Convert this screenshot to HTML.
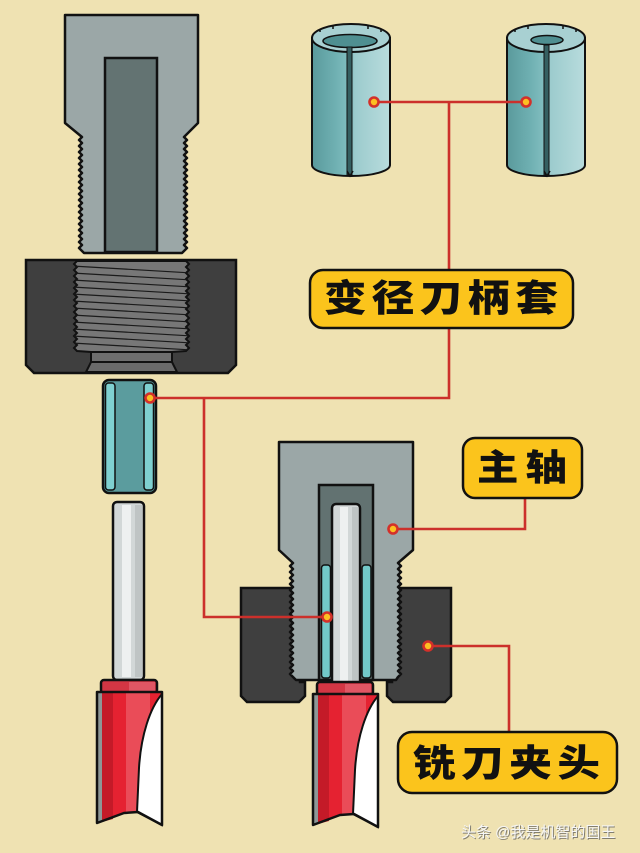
<!DOCTYPE html>
<html><head><meta charset="utf-8"><style>
html,body{margin:0;padding:0;background:#efe2b2;}
svg{display:block;}
.lbl{font-family:"Liberation Sans","Noto Sans CJK SC",sans-serif;font-weight:900;fill:#111;}
</style></head><body>
<svg width="640" height="853" viewBox="0 0 640 853" xmlns="http://www.w3.org/2000/svg">
<defs>
<linearGradient id="cg" x1="0" x2="1" y1="0" y2="0">
<stop offset="0" stop-color="#5a9a9c"/><stop offset="0.3" stop-color="#6fb0b2"/><stop offset="0.5" stop-color="#84bfc1"/><stop offset="0.55" stop-color="#9ccbcd"/><stop offset="1" stop-color="#b8dcdd"/>
</linearGradient>
<clipPath id="nutclip"><path d="M77,261 H186 l3,3 l-3,3 l3,3 l-3,3 l3,3 l-3,3 l3,3 l-3,3 l3,3 l-3,3 l3,3 l-3,3 l3,3 l-3,3 l3,3 l-3,3 l3,3 l-3,3 l3,3 l-3,3 l3,3 l-3,3 l3,3 l-3,3 l3,3 l-3,3 l3,3 l-3,3 l3,3 l-3,3 L172,352 H91 L77,351 l-3,-3 l3,-3 l-3,-3 l3,-3 l-3,-3 l3,-3 l-3,-3 l3,-3 l-3,-3 l3,-3 l-3,-3 l3,-3 l-3,-3 l3,-3 l-3,-3 l3,-3 l-3,-3 l3,-3 l-3,-3 l3,-3 l-3,-3 l3,-3 l-3,-3 l3,-3 l-3,-3 l3,-3 l-3,-3 l3,-3 l-3,-3 l3,-3 Z"/></clipPath>
</defs>
<rect width="640" height="853" fill="#efe2b2"/>

<!-- LEFT SPINDLE -->
<path d="M65,15 H198 V123 L184,137 l3,3 l-3,3 l3,3 l-3,3 l3,3 l-3,3 l3,3 l-3,3 l3,3 l-3,3 l3,3 l-3,3 l3,3 l-3,3 l3,3 l-3,3 l3,3 l-3,3 l3,3 l-3,3 l3,3 l-3,3 l3,3 l-3,3 l3,3 l-3,3 l3,3 l-3,3 l3,3 l-3,3 l3,3 l-3,3 l3,3 l-3,3 l3,3 l-3,3 l3,3 l-3,3 L182,253 H84 L82,251 l-3,-3 l3,-3 l-3,-3 l3,-3 l-3,-3 l3,-3 l-3,-3 l3,-3 l-3,-3 l3,-3 l-3,-3 l3,-3 l-3,-3 l3,-3 l-3,-3 l3,-3 l-3,-3 l3,-3 l-3,-3 l3,-3 l-3,-3 l3,-3 l-3,-3 l3,-3 l-3,-3 l3,-3 l-3,-3 l3,-3 l-3,-3 l3,-3 l-3,-3 l3,-3 l-3,-3 l3,-3 l-3,-3 l3,-3 l-3,-3 l3,-3 L65,123 Z" fill="#9ba7a7" stroke="#111" stroke-width="2.5" stroke-linejoin="round"/>
<rect x="105" y="58" width="52" height="194" fill="#637372" stroke="#111" stroke-width="2.5"/>

<!-- LEFT NUT -->
<path d="M26,260 H236 V365 L228,373 H34 L26,365 Z" fill="#3f3f3f" stroke="#111" stroke-width="2.5"/>
<path d="M77,261 H186 l3,3 l-3,3 l3,3 l-3,3 l3,3 l-3,3 l3,3 l-3,3 l3,3 l-3,3 l3,3 l-3,3 l3,3 l-3,3 l3,3 l-3,3 l3,3 l-3,3 l3,3 l-3,3 l3,3 l-3,3 l3,3 l-3,3 l3,3 l-3,3 l3,3 l-3,3 l3,3 l-3,3 L172,352 H91 L77,351 l-3,-3 l3,-3 l-3,-3 l3,-3 l-3,-3 l3,-3 l-3,-3 l3,-3 l-3,-3 l3,-3 l-3,-3 l3,-3 l-3,-3 l3,-3 l-3,-3 l3,-3 l-3,-3 l3,-3 l-3,-3 l3,-3 l-3,-3 l3,-3 l-3,-3 l3,-3 l-3,-3 l3,-3 l-3,-3 l3,-3 l-3,-3 l3,-3 Z" fill="#777" stroke="#111" stroke-width="2"/>
<g clip-path="url(#nutclip)" stroke="#1a1a1a" stroke-width="1.2">
<line x1="72" y1="266" x2="192" y2="273"/><line x1="72" y1="273" x2="192" y2="280"/><line x1="72" y1="280" x2="192" y2="287"/><line x1="72" y1="287" x2="192" y2="294"/><line x1="72" y1="294" x2="192" y2="301"/><line x1="72" y1="301" x2="192" y2="308"/><line x1="72" y1="308" x2="192" y2="315"/><line x1="72" y1="315" x2="192" y2="322"/><line x1="72" y1="322" x2="192" y2="329"/><line x1="72" y1="329" x2="192" y2="336"/><line x1="72" y1="336" x2="192" y2="343"/><line x1="72" y1="343" x2="192" y2="350"/>
</g>
<path d="M91,352 H172 V362 H91 Z" fill="#6e6e6e" stroke="#111" stroke-width="2"/>
<path d="M91,362 H172 L177,372 H86 Z" fill="#6a6a6a" stroke="#111" stroke-width="2"/>

<!-- SMALL COLLET -->
<rect x="103" y="380" width="53" height="113" rx="6" fill="#5b9c9e" stroke="#111" stroke-width="2.5"/>
<rect x="105.5" y="383" width="9.5" height="107" rx="3" fill="#7fd0d0" stroke="#111" stroke-width="1.5"/>
<rect x="144" y="383" width="9.5" height="107" rx="3" fill="#7fd0d0" stroke="#111" stroke-width="1.5"/>

<!-- LEFT BIT -->
<rect x="113" y="502" width="31" height="178" rx="4" fill="#d2d7d7" stroke="#111" stroke-width="2.5"/>
<rect x="122" y="505" width="9" height="172" fill="#eef0f0"/>
<rect x="135" y="505" width="7" height="172" fill="#bfc4c4"/>
<g>
<rect x="101" y="680" width="56" height="13" rx="3" fill="#d43644" stroke="#111" stroke-width="2.5"/>
<rect x="129" y="682" width="26" height="9" fill="#e05664"/>
<path d="M97,692 H162 V825 L138,812 L124,813 L97,823 Z" fill="#e52231"/>
<path d="M97,693 H102 V822 L97,823 Z" fill="#8d9797"/>
<path d="M102,693 H113 V819 L102,822 Z" fill="#c41a28"/>
<path d="M126,693 H150 V812 L126,813 Z" fill="#ea4c58"/>
<path d="M162,694 C150,708 141,735 139,768 L137,812 L162,825 Z" fill="#fff" stroke="#111" stroke-width="2"/>
<path d="M97,692 H162 V825 L138,812 L124,813 L97,823 Z" fill="none" stroke="#111" stroke-width="2.5" stroke-linejoin="round"/>
</g>

<!-- TOP COLLETS -->
<g>
<path d="M312,38 V165 A39,11 0 0 0 390,165 V38 Z" fill="url(#cg)" stroke="#111" stroke-width="2"/>
<ellipse cx="351" cy="38" rx="39" ry="14" fill="#a8d0d2" stroke="#111" stroke-width="2"/>
<ellipse cx="350" cy="41" rx="27" ry="6.5" fill="#4f8f91" stroke="#111" stroke-width="1.5"/>
<rect x="347" y="47" width="5" height="128" fill="#355f61" stroke="#111" stroke-width="1"/>
<path d="M320,29 v3 M333,26 v3 M368,26 v3 M381,29 v3 M347,171 l3,5 l3,-5" stroke="#111" stroke-width="1.5" fill="none"/>
</g>
<g transform="translate(195,0)">
<path d="M312,38 V165 A39,11 0 0 0 390,165 V38 Z" fill="url(#cg)" stroke="#111" stroke-width="2"/>
<ellipse cx="351" cy="38" rx="39" ry="14" fill="#a8d0d2" stroke="#111" stroke-width="2"/>
<ellipse cx="352" cy="40" rx="16" ry="4.5" fill="#4f8f91" stroke="#111" stroke-width="1.5"/>
<rect x="349" y="45" width="5" height="130" fill="#355f61" stroke="#111" stroke-width="1"/>
<path d="M320,29 v3 M333,26 v3 M368,26 v3 M381,29 v3 M349,171 l3,5 l3,-5" stroke="#111" stroke-width="1.5" fill="none"/>
</g>

<!-- RIGHT ASSEMBLY: NUTS -->
<path d="M241,588 H300 V682 H305 V696 L299,702 H247 L241,696 Z" fill="#3f3f3f" stroke="#111" stroke-width="2.5"/>
<path d="M451,588 H392 V682 H387 V696 L393,702 H445 L451,696 Z" fill="#3f3f3f" stroke="#111" stroke-width="2.5"/>
<!-- RIGHT SPINDLE -->
<path d="M279,442 H413 V550 L398,563 l3,3 l-3,3 l3,3 l-3,3 l3,3 l-3,3 l3,3 l-3,3 l3,3 l-3,3 l3,3 l-3,3 l3,3 l-3,3 l3,3 l-3,3 l3,3 l-3,3 l3,3 l-3,3 l3,3 l-3,3 l3,3 l-3,3 l3,3 l-3,3 l3,3 l-3,3 l3,3 l-3,3 l3,3 l-3,3 l3,3 l-3,3 l3,3 l-3,3 l3,3 l-3,3 L396,680 H296 L293,677 l-3,-3 l3,-3 l-3,-3 l3,-3 l-3,-3 l3,-3 l-3,-3 l3,-3 l-3,-3 l3,-3 l-3,-3 l3,-3 l-3,-3 l3,-3 l-3,-3 l3,-3 l-3,-3 l3,-3 l-3,-3 l3,-3 l-3,-3 l3,-3 l-3,-3 l3,-3 l-3,-3 l3,-3 l-3,-3 l3,-3 l-3,-3 l3,-3 l-3,-3 l3,-3 l-3,-3 l3,-3 l-3,-3 l3,-3 l-3,-3 l3,-3 L279,550 Z" fill="#9ba7a7" stroke="#111" stroke-width="2.5" stroke-linejoin="round"/>
<rect x="319" y="485" width="54" height="195" fill="#627271" stroke="#111" stroke-width="2.5"/>
<rect x="321.5" y="565" width="9" height="113" rx="3" fill="#72c8c8" stroke="#111" stroke-width="1.5"/>
<rect x="362" y="565" width="9" height="113" rx="3" fill="#72c8c8" stroke="#111" stroke-width="1.5"/>
<rect x="332" y="504" width="28" height="182" rx="4" fill="#d2d7d7" stroke="#111" stroke-width="2.5"/>
<rect x="340" y="507" width="8" height="176" fill="#eef0f0"/>
<rect x="352" y="507" width="6" height="176" fill="#bfc4c4"/>
<g transform="translate(216,2)">
<rect x="101" y="680" width="56" height="13" rx="3" fill="#d43644" stroke="#111" stroke-width="2.5"/>
<rect x="129" y="682" width="26" height="9" fill="#e05664"/>
<path d="M97,692 H162 V825 L138,812 L124,813 L97,823 Z" fill="#e52231"/>
<path d="M97,693 H102 V822 L97,823 Z" fill="#8d9797"/>
<path d="M102,693 H113 V819 L102,822 Z" fill="#c41a28"/>
<path d="M126,693 H150 V812 L126,813 Z" fill="#ea4c58"/>
<path d="M162,694 C150,708 141,735 139,768 L137,812 L162,825 Z" fill="#fff" stroke="#111" stroke-width="2"/>
<path d="M97,692 H162 V825 L138,812 L124,813 L97,823 Z" fill="none" stroke="#111" stroke-width="2.5" stroke-linejoin="round"/>
</g>

<!-- CONNECTORS -->
<g fill="none" stroke="#cc302b" stroke-width="2.6">
<polyline points="374,102 526,102"/>
<polyline points="449,102 449,270"/>
<polyline points="449,328 449,398 150,398"/>
<polyline points="204,398 204,617 327,617"/>
<polyline points="393,529 525,529 525,498"/>
<polyline points="428,646 509,646 509,732"/>
</g>
<g fill="#fcbf22" stroke="#d3302a" stroke-width="2.6">
<circle cx="374" cy="102" r="4.5"/><circle cx="526" cy="102" r="4.5"/>
<circle cx="150" cy="398" r="4.5"/><circle cx="327" cy="617" r="4.5"/>
<circle cx="393" cy="529" r="4.5"/><circle cx="428" cy="646" r="4.5"/>
</g>

<!-- LABELS -->
<rect x="310" y="270" width="263" height="58" rx="13" fill="#fbc41c" stroke="#111" stroke-width="2.5"/>
<text class="lbl" transform="scale(1.15,1)" x="281.7" y="311" font-size="37" textLength="203.5" lengthAdjust="spacing">变径刀柄套</text>
<rect x="463" y="438" width="119" height="60" rx="12" fill="#fbc41c" stroke="#111" stroke-width="2.5"/>
<text class="lbl" transform="scale(1.15,1)" x="414.8" y="480" font-size="36" textLength="78.3" lengthAdjust="spacing">主轴</text>
<rect x="398" y="732" width="219" height="61" rx="14" fill="#fbc41c" stroke="#111" stroke-width="2.5"/>
<text class="lbl" transform="scale(1.15,1)" x="359.1" y="776" font-size="37" textLength="162.6" lengthAdjust="spacing">铣刀夹头</text>

<!-- WATERMARK -->
<text x="461" y="837" font-size="15" font-family="Liberation Sans, Noto Sans CJK SC, sans-serif" fill="#555" opacity="0.7" transform="translate(1,1)">头条 @我是机智的国王</text>
<text x="461" y="837" font-size="15" font-family="Liberation Sans, Noto Sans CJK SC, sans-serif" fill="#f6f6f6">头条 @我是机智的国王</text>
</svg>
</body></html>
